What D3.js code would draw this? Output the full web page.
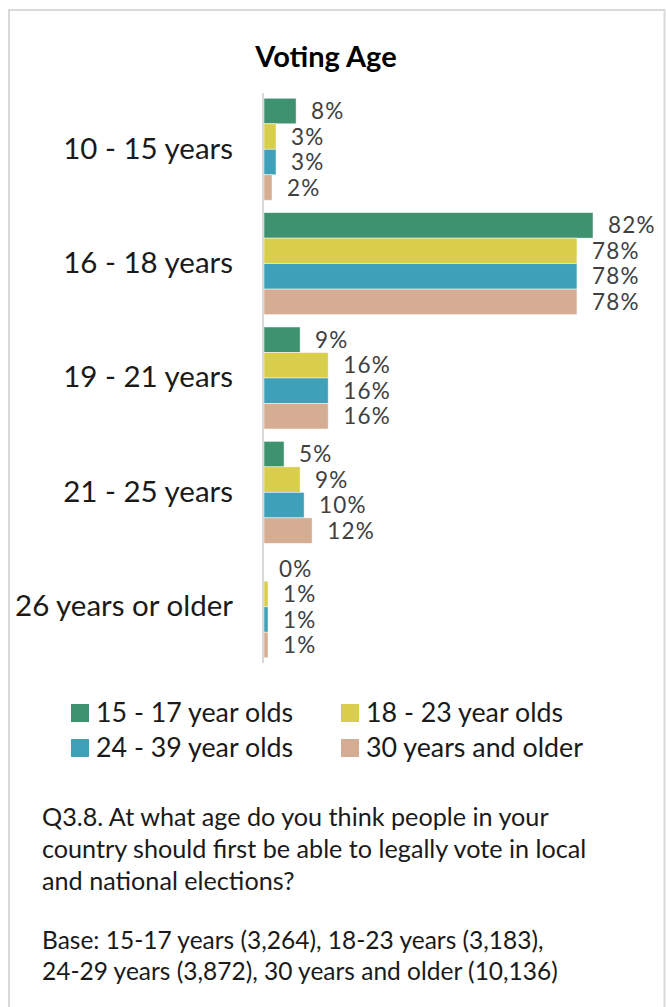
<!DOCTYPE html>
<html>
<head>
<meta charset="utf-8">
<script src="https://cdn.jsdelivr.net/npm/d3@7"></script>
<style>
  html, body { margin: 0; padding: 0; background: #ffffff; }
  svg { display: block; }
  text { font-family: Lato, "Open Sans", sans-serif; }
</style>
</head>
<body>
<svg id="chart" width="666" height="1007"></svg>
<script>
// Age ranges asked about (one group of bars each)
const categories = ["10 - 15 years", "16 - 18 years", "19 - 21 years", "21 - 25 years", "26 years or older"];

// Respondent groups (legend order)
const seriesNames = ["15 - 17 year olds", "18 - 23 year olds", "24 - 39 year olds", "30 years and older"];
const seriesColors = ["#3e926f", "#d8ce4b", "#3fa0ba", "#d4ad92"];

// Share of each respondent group choosing each age range (%)
const values1517 = [8, 82, 9, 5, 0];
const values1823 = [3, 78, 16, 9, 1];
const values2439 = [3, 78, 16, 10, 1];
const values30plus = [2, 78, 16, 12, 1];

const questionLines = [
  "Q3.8. At what age do you think people in your",
  "country should first be able to legally vote in local",
  "and national elections?"
];
const baseLines = [
  "Base: 15-17 years (3,264), 18-23 years (3,183),",
  "24-29 years (3,872), 30 years and older (10,136)"
];

const seriesValues = [values1517, values1823, values2439, values30plus];

const svg = d3.select("#chart");

// Outer frame
svg.append("path")
  .attr("d", "M9,1007 V10 H664.5 V1007")
  .attr("fill", "none")
  .attr("stroke", "#d9d9d9")
  .attr("stroke-width", 2);

// Title
svg.append("text")
  .attr("x", 326)
  .attr("y", 67)
  .attr("text-anchor", "middle")
  .attr("font-size", 29)
  .attr("font-weight", "bold")
  .attr("fill", "#000")
  .text("Voting Age");

// Scales
const x = d3.scaleLinear().domain([0, 82]).range([264, 593]);
const y0 = d3.scaleBand().domain(categories).range([93, 663]).paddingInner(0.108).paddingOuter(0.046);
const y1 = d3.scaleBand().domain(d3.range(seriesNames.length)).range([0, y0.bandwidth()]);

// Category axis on the left
const yAxis = d3.axisLeft(y0).tickSize(0).tickPadding(30);
const gAxis = svg.append("g")
  .attr("transform", `translate(${x(0) - 1},0)`)
  .call(yAxis);
gAxis.select(".domain").remove();
gAxis.selectAll(".tick text")
  .attr("font-size", 29.5)
  .attr("fill", "#1a1a1a")
  .style("font-family", "Lato, 'Open Sans', sans-serif");

// Bars
const groups = svg.append("g").selectAll("g")
  .data(categories)
  .join("g")
  .attr("transform", d => `translate(0,${y0(d)})`);

groups.selectAll("rect")
  .data((c, ci) => seriesValues.map((vals, si) => ({ si, v: vals[ci] })))
  .join("rect")
  .attr("x", x(0))
  .attr("y", d => y1(d.si))
  .attr("width", d => x(d.v) - x(0))
  .attr("height", y1.bandwidth())
  .attr("fill", d => seriesColors[d.si])
  .attr("stroke", d => d.v > 0 ? "#ffffff" : "none")
  .attr("stroke-opacity", 0.6)
  .attr("stroke-width", 0.8);

// Value labels
groups.selectAll("text.val")
  .data((c, ci) => seriesValues.map((vals, si) => ({ si, v: vals[ci] })))
  .join("text")
  .attr("class", "val")
  .attr("x", d => x(d.v) + 15)
  .attr("y", d => y1(d.si) + y1.bandwidth() / 2)
  .attr("dy", "0.36em")
  .attr("font-size", 22.5)
  .attr("letter-spacing", 1.2)
  .attr("fill", "#404040")
  .text(d => d.v + "%");

// Vertical axis line
svg.append("line")
  .attr("x1", x(0) - 1).attr("x2", x(0) - 1)
  .attr("y1", 93).attr("y2", 663)
  .attr("stroke", "#d9d9d9")
  .attr("stroke-width", 2);

// Legend
const legendPos = [[71, 713], [341, 713], [71, 748], [341, 748]];
const legend = svg.append("g").selectAll("g")
  .data(seriesNames)
  .join("g")
  .attr("transform", (d, i) => `translate(${legendPos[i][0]},${legendPos[i][1]})`);
legend.append("rect")
  .attr("x", 0).attr("y", -9)
  .attr("width", 18).attr("height", 18)
  .attr("fill", (d, i) => seriesColors[i]);
legend.append("text")
  .attr("x", 25)
  .attr("y", 0)
  .attr("dy", "0.35em")
  .attr("font-size", 26.8)
  .attr("fill", "#1a1a1a")
  .text(d => d);

// Question text
svg.append("g").selectAll("text")
  .data(questionLines)
  .join("text")
  .attr("x", 42)
  .attr("y", (d, i) => 826 + i * 32)
  .attr("font-size", 25.2)
  .attr("fill", "#1a1a1a")
  .text(d => d);

// Base sizes
svg.append("g").selectAll("text")
  .data(baseLines)
  .join("text")
  .attr("x", 42)
  .attr("y", (d, i) => 949 + i * 31)
  .attr("font-size", 24.5)
  .attr("fill", "#1a1a1a")
  .text(d => d);
</script>
</body>
</html>
